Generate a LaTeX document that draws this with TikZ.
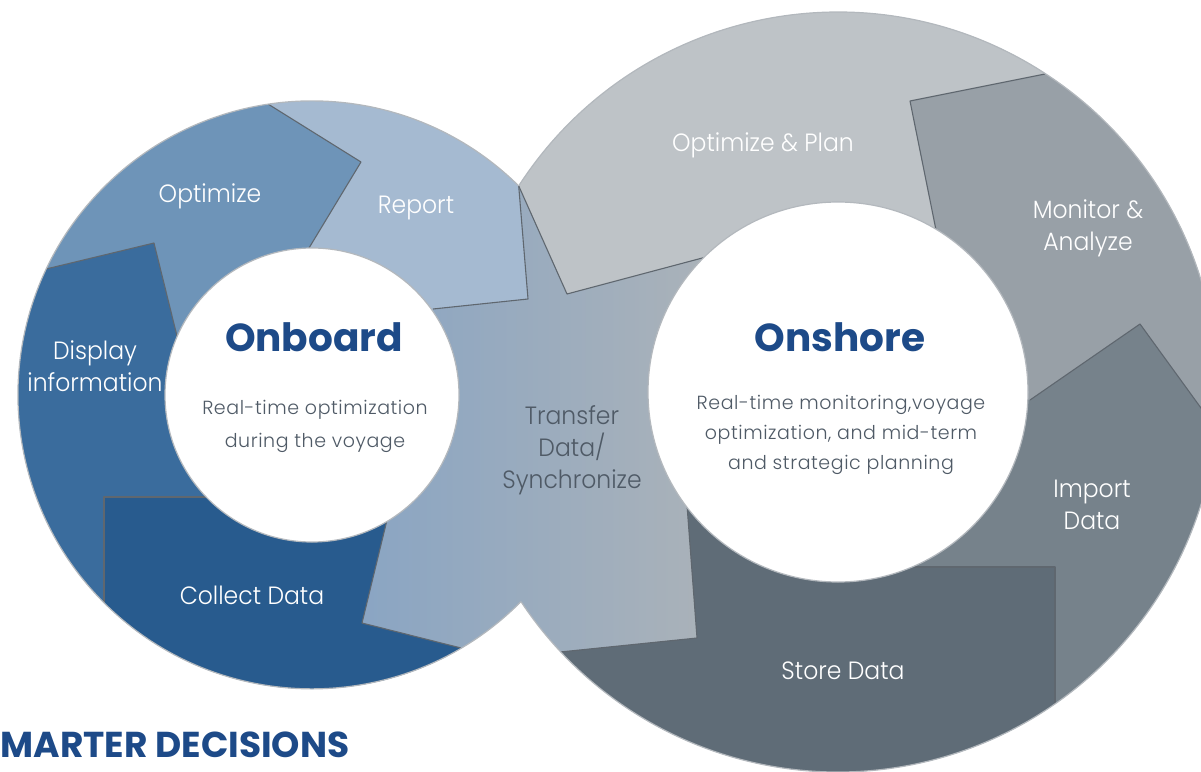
\documentclass[tikz,border=0pt]{standalone}
\usepackage{fontspec}
\setmainfont{Poppins}[UprightFont={* Light},BoldFont={* Bold}]
\definecolor{optimize}{HTML}{6E94B8}
\definecolor{report}{HTML}{A5BAD1}
\definecolor{display}{HTML}{3A6C9D}
\definecolor{collect}{HTML}{285B8E}
\definecolor{transA}{HTML}{8AA5C3}
\definecolor{transB}{HTML}{AAB2B9}
\definecolor{plan}{HTML}{BEC3C7}
\definecolor{monitor}{HTML}{98A0A7}
\definecolor{import}{HTML}{76828B}
\definecolor{store}{HTML}{5F6C77}
\definecolor{divider}{HTML}{5F676F}
\definecolor{rimgray}{HTML}{B3B8BD}
\definecolor{titleblue}{HTML}{1D4A88}
\definecolor{descgray}{HTML}{4F5A66}

\begin{document}
\begin{tikzpicture}[x=1pt, y=-1pt,
  edge/.style = {draw=divider, line width=1.1pt, line join=round},
  rim/.style = {draw=rimgray, line width=1.2pt},
  lbl/.style = {text=white, align=center, font=\fontsize{25}{32}\selectfont\addfontfeature{FakeStretch=0.94}},
  title/.style = {text=titleblue, font=\fontsize{39}{44}\selectfont\bfseries},
  desc/.style = {text=descgray, align=center, font=\fontsize{19}{33}\selectfont\addfontfeature{LetterSpace=3}}]
\useasboundingbox (0,0) rectangle (1201,771);

\coordinate (L) at (312,395);
\coordinate (R) at (838,392);
\coordinate (jtop) at (518.7,185.9);
\coordinate (jbot) at (521.1,601.7);

\begin{scope}
\clip (L) circle (294) (R) circle (380);
\shade[left color=transA, right color=transB] (360,100) rectangle (705,720);
% onboard ring
\fill[collect] (104,497) -- (207,497) -- (L) -- (387,520) -- (362,623) -- (461,648) -- (470,700) -- (104,700) -- cycle;
\fill[display] (104,497) -- (104,700) -- (0,700) -- (0,280) -- (154,243) -- (177,336) -- (L) -- (207,497) -- cycle;
\fill[optimize] (0,280) -- (154,243) -- (177,336) -- (L) -- (309,248) -- (361,162) -- (268,104) -- (197,60) -- (0,60) -- cycle;
\fill[report] (197,60) -- (268,104) -- (361,162) -- (309,248) -- (L) -- (433,309) -- (528,299) -- (jtop) -- (510,60) -- cycle;
% onshore ring
\fill[plan] (jtop) -- (567,294) -- (706,257) -- (R) -- (936,230) -- (910,101) -- (1045,74) -- (1150,53) -- (1150,-20) -- (500,-20) -- cycle;
\fill[monitor] (1045,74) -- (910,101) -- (936,230) -- (R) -- (1030,400) -- (1140,324) -- (1260,490) -- (1260,-20) -- (1150,-20) -- (1150,53) -- cycle;
\fill[import] (1030,400) -- (1140,324) -- (1260,490) -- (1260,800) -- (1055,800) -- (1055,567) -- (914,567) -- (R) -- cycle;
\fill[store] (914,567) -- (1055,567) -- (1055,800) -- (540,800) -- (560,652) -- (697,638) -- (687,505) -- (R) -- cycle;
% dividers
\draw[edge] (46,269) -- (154,243) -- (177,336);
\draw[edge] (104,603) -- (104,497) -- (207,497);
\draw[edge] (268,104) -- (361,162) -- (309,248);
\draw[edge] (jtop) -- (528,299) -- (433,309);
\draw[edge] (387,520) -- (362,623) -- (461,648);
\draw[edge] (jtop) -- (567,294) -- (706,257);
\draw[edge] (1045,74) -- (910,101) -- (936,230);
\draw[edge] (1030,400) -- (1140,324) -- (1230,448);
\draw[edge] (914,567) -- (1055,567) -- (1055,705);
\draw[edge] (687,505) -- (697,638) -- (560,652);
\end{scope}

\draw[rim] (jtop) arc[start angle=-45.3, end angle=-315.3, radius=294];
\draw[rim] (jtop) arc[start angle=-147.15, end angle=146.5, radius=380];
\draw[rim, fill=white] (L) circle (147);
\draw[rim, fill=white] (R) circle (190);

\node[lbl] (optlbl) at (210,196) {Optimize};
\node[lbl] (replbl) at (416,208) {Report};
\node[lbl] (displbl) at (95,366) {Display\\information};
\node[lbl] (collbl) at (252,595) {Collect Data};
\node[lbl, text=descgray] (translbl) at (572,450) {Transfer\\Data/\\Synchronize};
\node[lbl] (planlbl) at (763,145) {Optimize \& Plan};
\node[lbl] (monlbl) at (1088,228) {Monitor \&\\Analyze};
\node[lbl] (implbl) at (1092,505) {Import\\Data};
\node[lbl] (storelbl) at (843,671) {Store Data};

\node[title] (onboard) at (314,337) {Onboard};
\node[desc] (onboarddesc) at (315,426) {Real-time optimization\\during the voyage};
\node[title] (onshore) at (840,337) {Onshore};
\node[desc, font=\fontsize{19}{30}\selectfont\addfontfeature{LetterSpace=3}] (onshoredesc) at (841,435) {Real-time monitoring,voyage\\optimization, and mid-term\\and strategic planning};

\node[anchor=base west, text=titleblue, font=\fontsize{36}{40}\selectfont\bfseries] (decisions) at (-3,757) {MARTER DECISIONS};
\end{tikzpicture}
\end{document}
